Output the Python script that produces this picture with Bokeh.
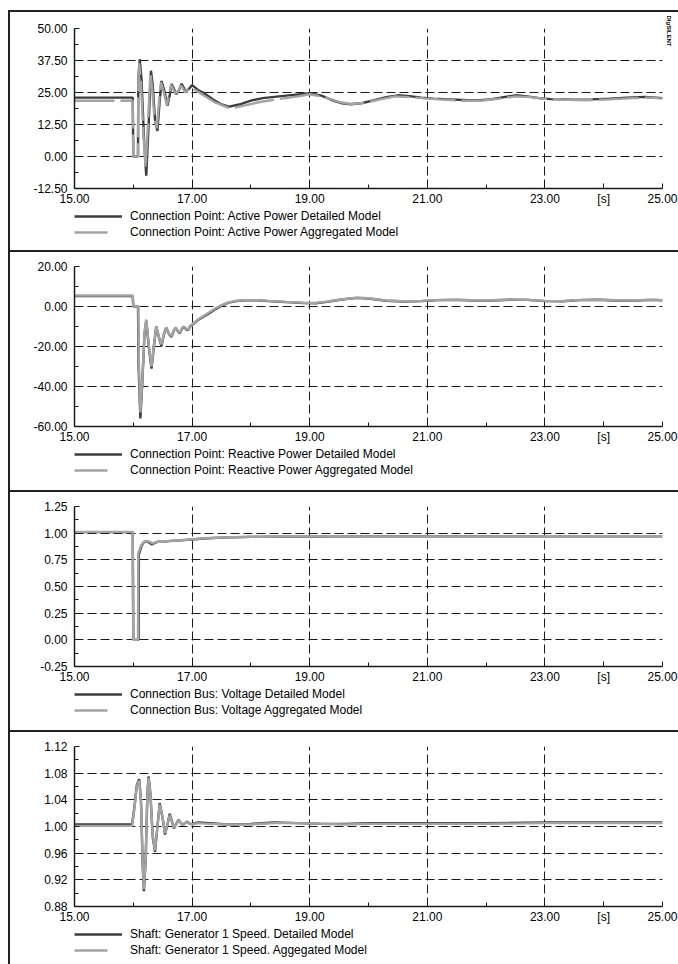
from bokeh.plotting import figure
from bokeh.models import (Range1d, FixedTicker, NumeralTickFormatter, Legend,
                          LegendItem, Spacer, Title)
from bokeh.layouts import column, row
from bokeh.embed import file_html
from bokeh.resources import INLINE

# ---------------- data ----------------
x_major = [15, 17, 19, 21, 23, 24, 25]
x_minor = [16, 18, 20, 22, 24]
x_grid = [17, 19, 21, 23, 25]
x_unit_tick = 24
x_unit_label = "[s]"

# Panel 1: active power
t_p_det = [15.0, 15.99, 16.0, 16.08, 16.085, 16.11, 16.14, 16.18, 16.22, 16.26, 16.30, 16.33, 16.37,
           16.41, 16.45, 16.48, 16.53, 16.58, 16.62, 16.65, 16.69, 16.73, 16.78, 16.82, 16.86, 16.89,
           16.95, 17.0, 17.1, 17.2, 17.35, 17.5, 17.63, 17.8, 18.0, 18.2, 18.4, 18.6, 18.8, 19.0, 19.2,
           19.4, 19.55, 19.7, 19.9, 20.1, 20.3, 20.5, 20.7, 20.9, 21.1, 21.4, 21.7, 21.9, 22.1, 22.3,
           22.5, 22.7, 22.9, 23.1, 23.3, 23.5, 23.8, 24.1, 24.4, 24.7, 25.0]
p_det = [23.0, 23.0, 0.0, 0.0, 30.0, 38.0, 30.0, 8.0, -7.5, 12.0, 33.5, 28.0, 14.0, 10.0, 22.0, 29.5,
         25.5, 19.8, 24.0, 28.3, 26.5, 24.3, 26.0, 28.4, 26.8, 25.2, 26.5, 27.9, 26.0, 24.8, 22.4, 20.3,
         19.5, 20.3, 21.8, 22.8, 23.3, 23.8, 24.2, 24.7, 23.8, 21.8, 20.8, 20.4, 20.9, 22.0, 23.2, 23.9,
         23.6, 23.0, 22.6, 22.3, 22.0, 22.0, 22.4, 23.2, 23.9, 23.5, 22.8, 22.4, 22.3, 22.2, 22.3, 22.6,
         23.0, 23.3, 22.8]
t_p_agg = [15.0, 15.99, 16.0, 16.08, 16.085, 16.10, 16.13, 16.17, 16.21, 16.25, 16.29, 16.32, 16.36,
           16.40, 16.44, 16.47, 16.52, 16.57, 16.61, 16.64, 16.68, 16.72, 16.77, 16.81, 16.85, 16.88,
           16.93, 16.98, 17.1, 17.2, 17.4, 17.6, 17.7, 17.9, 18.2, 18.5, 18.8, 19.0, 19.25, 19.5, 19.7,
           19.95, 20.2, 20.45, 20.7, 20.95, 21.2, 21.6, 21.9, 22.2, 22.5, 22.75, 23.0, 23.3, 23.7, 24.1,
           24.5, 24.8, 25.0]
p_agg = [21.8, 21.8, 0.0, 0.0, 28.0, 36.5, 29.0, 9.0, -4.5, 13.0, 32.5, 27.0, 15.0, 11.0, 22.0, 29.0,
         25.0, 20.0, 24.0, 28.0, 26.3, 24.5, 25.8, 27.8, 26.4, 25.0, 26.2, 27.0, 25.3, 23.8, 21.0, 19.2,
         19.0, 20.0, 21.5, 22.5, 23.5, 24.3, 23.2, 21.3, 20.5, 21.0, 22.3, 23.5, 23.2, 22.7, 22.3, 21.8,
         21.8, 22.5, 23.5, 23.2, 22.5, 22.2, 22.0, 22.3, 22.8, 23.0, 22.6]

# Panel 2: reactive power
t_q_det = [15.0, 15.99, 16.0, 16.08, 16.09, 16.12, 16.15, 16.19, 16.22, 16.27, 16.31, 16.35, 16.39,
           16.44, 16.48, 16.52, 16.56, 16.61, 16.65, 16.69, 16.72, 16.76, 16.79, 16.83, 16.86, 16.9,
           16.93, 16.97, 17.0, 17.1, 17.2, 17.3, 17.4, 17.5, 17.62, 17.75, 17.9, 18.1, 18.3, 18.6, 18.9,
           19.1, 19.3, 19.55, 19.8, 20.0, 20.3, 20.6, 20.9, 21.2, 21.5, 21.8, 22.1, 22.4, 22.7, 23.0,
           23.3, 23.6, 23.9, 24.2, 24.5, 24.8, 25.0]
q_det = [5.2, 5.2, 0.0, 0.0, -30.0, -56.0, -40.0, -14.0, -7.0, -22.0, -31.0, -20.0, -10.0, -16.0,
         -19.8, -14.0, -10.5, -14.0, -15.2, -12.0, -10.5, -12.5, -13.5, -11.0, -10.2, -11.5, -11.8,
         -9.8, -9.3, -6.8, -5.0, -3.2, -1.3, 0.4, 1.9, 2.7, 3.1, 3.1, 2.7, 2.2, 1.7, 1.6, 2.3, 3.5, 4.3,
         4.0, 2.9, 2.5, 2.7, 3.2, 3.3, 3.0, 3.0, 3.4, 3.3, 2.7, 2.6, 3.2, 3.4, 3.0, 2.9, 3.3, 3.1]
t_q_agg = [15.0, 15.99, 16.0, 16.085, 16.095, 16.12, 16.15, 16.19, 16.22, 16.27, 16.31, 16.35, 16.39,
           16.44, 16.48, 16.52, 16.56, 16.61, 16.65, 16.69, 16.72, 16.76, 16.79, 16.83, 16.86, 16.9,
           16.93, 16.97, 17.0, 17.1, 17.2, 17.3, 17.4, 17.5, 17.62, 17.75, 17.9, 18.1, 18.3, 18.6, 18.9,
           19.1, 19.3, 19.55, 19.8, 20.0, 20.3, 20.6, 20.9, 21.2, 21.5, 21.8, 22.1, 22.4, 22.7, 23.0,
           23.3, 23.6, 23.9, 24.2, 24.5, 24.8, 25.0]
q_agg = [5.5, 5.5, 0.0, 0.0, -28.0, -53.0, -39.0, -13.5, -6.5, -21.0, -30.0, -19.5, -9.8, -15.5,
         -19.0, -13.8, -10.5, -13.8, -14.8, -11.8, -10.4, -12.2, -13.2, -10.8, -10.0, -11.2, -11.5,
         -9.6, -9.0, -6.5, -4.6, -2.8, -0.9, 0.7, 2.1, 2.9, 3.2, 3.2, 2.8, 2.3, 1.9, 1.8, 2.5, 3.6, 4.4,
         4.1, 3.0, 2.6, 2.8, 3.3, 3.4, 3.1, 3.1, 3.5, 3.4, 2.8, 2.7, 3.3, 3.5, 3.1, 3.0, 3.4, 3.2]

# Panel 3: bus voltage
t_v_det = [15.0, 15.99, 16.0, 16.09, 16.095, 16.14, 16.18, 16.23, 16.28, 16.32, 16.37, 16.42, 16.5,
           16.6, 16.8, 17.0, 17.2, 17.5, 18.0, 18.5, 19.0, 19.5, 20.0, 21.0, 22.0, 23.0, 24.0, 25.0]
v_det = [1.01, 1.01, 0.0, 0.0, 0.80, 0.88, 0.915, 0.925, 0.908, 0.893, 0.91, 0.92, 0.918, 0.925,
         0.932, 0.94, 0.95, 0.958, 0.965, 0.968, 0.966, 0.968, 0.97, 0.97, 0.97, 0.97, 0.971, 0.971]
t_v_agg = [15.0, 15.99, 16.0, 16.08, 16.085, 16.13, 16.18, 16.23, 16.28, 16.33, 16.38, 16.43, 16.5,
           16.6, 16.8, 17.0, 17.2, 17.5, 18.0, 18.5, 19.0, 19.5, 20.0, 21.0, 22.0, 23.0, 24.0, 25.0]
v_agg = [1.012, 1.012, 0.0, 0.0, 0.81, 0.885, 0.92, 0.928, 0.918, 0.905, 0.915, 0.922, 0.92, 0.926,
         0.933, 0.942, 0.952, 0.96, 0.966, 0.969, 0.968, 0.969, 0.97, 0.97, 0.97, 0.971, 0.971, 0.971]

# Panel 4: generator speed
t_w = [15.0, 15.98, 16.02, 16.06, 16.10, 16.13, 16.16, 16.18, 16.21, 16.24, 16.26, 16.29, 16.33,
       16.37, 16.41, 16.45, 16.50, 16.54, 16.58, 16.62, 16.66, 16.69, 16.73, 16.77, 16.81, 16.84,
       16.88, 16.92, 16.96, 17.0, 17.1, 17.3, 17.6, 18.0, 18.4, 18.8, 19.2, 19.6, 20.0, 21.0, 22.0,
       23.0, 24.0, 25.0]
w_det = [1.003, 1.003, 1.03, 1.062, 1.071, 1.04, 0.94, 0.903, 0.95, 1.05, 1.075, 1.05, 0.985, 0.962,
         1.0, 1.035, 1.012, 0.988, 1.003, 1.019, 1.007, 0.997, 1.004, 1.010, 1.005, 1.002, 1.005,
         1.0075, 1.004, 1.004, 1.006, 1.005, 1.003, 1.004, 1.006, 1.005, 1.004, 1.004, 1.005, 1.005,
         1.005, 1.006, 1.006, 1.006]
w_agg = [1.001, 1.001, 1.028, 1.06, 1.069, 1.04, 0.945, 0.906, 0.95, 1.048, 1.073, 1.05, 0.987,
         0.964, 1.0, 1.033, 1.012, 0.99, 1.003, 1.017, 1.007, 0.998, 1.004, 1.009, 1.005, 1.002, 1.005,
         1.007, 1.004, 1.003, 1.005, 1.004, 1.003, 1.003, 1.005, 1.005, 1.004, 1.003, 1.004, 1.004,
         1.004, 1.005, 1.005, 1.005]

y1_major = [-12.5, 0.0, 12.5, 25.0, 37.5, 50.0]
y1_minor = [-6.25, 6.25, 18.75, 31.25, 43.75]
y2_major = [-60, -40, -20, 0, 20]
y2_minor = [-50, -30, -10, 10]
y3_major = [-0.25, 0.0, 0.25, 0.5, 0.75, 1.0, 1.25]
y3_minor = [-0.125, 0.125, 0.375, 0.625, 0.875, 1.125]
y4_major = [0.88, 0.92, 0.96, 1.00, 1.04, 1.08, 1.12]
y4_minor = [0.90, 0.94, 0.98, 1.02, 1.06, 1.10]

labels1 = ["Connection Point: Active Power Detailed Model",
           "Connection Point: Active Power Aggregated Model"]
labels2 = ["Connection Point: Reactive Power Detailed Model",
           "Connection Point: Reactive Power Aggregated Model"]
labels3 = ["Connection Bus: Voltage Detailed Model",
           "Connection Bus: Voltage Aggregated Model"]
labels4 = ["Shaft: Generator 1 Speed. Detailed Model",
           "Shaft: Generator 1 Speed. Aggegated Model"]
logo_text = "DIgSILENT"

# ---------------- style ----------------
FONT = "Liberation Sans"
INK = "#1a1a1a"
DARK = "#3d3d3d"
LIGHT = "#a3a3a3"
RULE = "#222222"
DET_STYLE = dict(line_color=DARK, line_width=2.4)
AGG_STYLE = dict(line_color=LIGHT, line_width=2.4)


def make_chart(top, yr, ymaj, ymin, t1, y1, t2, y2, agg_dash=None, logo=False):
    p = figure(width=668, height=top + 180, x_range=Range1d(15, 25), y_range=Range1d(*yr),
               output_backend="svg", toolbar_location=None,
               min_border_left=64, min_border_right=16, min_border_top=top,
               min_border_bottom=20)
    p.outline_line_color = None

    p.xaxis.ticker = FixedTicker(ticks=x_major, minor_ticks=x_minor)
    p.xaxis.major_label_overrides = {x_unit_tick: x_unit_label}
    p.xaxis.formatter = NumeralTickFormatter(format="0.00")
    p.yaxis.ticker = FixedTicker(ticks=ymaj, minor_ticks=ymin)
    p.yaxis.formatter = NumeralTickFormatter(format="0.00")
    p.xgrid.ticker = FixedTicker(ticks=x_grid)
    p.ygrid.ticker = FixedTicker(ticks=ymaj)

    for ax in (p.xaxis[0], p.yaxis[0]):
        ax.axis_line_color = INK
        ax.axis_line_width = 1.5
        ax.major_tick_in = 5
        ax.major_tick_out = 0
        ax.minor_tick_in = 4
        ax.minor_tick_out = 0
        ax.major_tick_line_color = INK
        ax.minor_tick_line_color = INK
        ax.major_label_text_font = FONT
        ax.major_label_text_font_size = "12px"
        ax.major_label_text_color = "#000000"
    p.xaxis.major_label_standoff = 3
    p.yaxis.major_label_standoff = 7

    p.grid.grid_line_color = INK
    p.grid.grid_line_dash = "9 4"
    p.grid.grid_line_width = 1

    p.line(t1, y1, **DET_STYLE)
    if agg_dash:
        p.line(t2, y2, line_dash=agg_dash, **AGG_STYLE)
    else:
        p.line(t2, y2, **AGG_STYLE)

    if logo:
        p.add_layout(Title(text=logo_text, align="left", text_font=FONT,
                           text_font_size="6px", text_font_style="bold",
                           text_color="#000000", standoff=7, offset=-13), "right")
    return p


def make_key(height, labels, t1, y1, t2, y2):
    # legend-only strip; its x range keeps the series themselves out of view
    k = figure(width=668, height=height, x_range=Range1d(0, 1), y_range=Range1d(0, 1),
               x_axis_type=None, y_axis_type=None, output_backend="svg",
               toolbar_location=None, min_border_left=64, min_border_right=0,
               min_border_top=0, min_border_bottom=0)
    k.outline_line_color = None
    k.grid.visible = False
    s1 = k.line(t1, y1, **DET_STYLE)
    s2 = k.line(t2, y2, line_dash="33 15", **AGG_STYLE)
    legend = Legend(items=[LegendItem(label=labels[0], renderers=[s1]),
                           LegendItem(label=labels[1], renderers=[s2])],
                    location="top_left", orientation="vertical",
                    border_line_color=None, background_fill_alpha=0,
                    label_text_font=FONT, label_text_font_size="12px",
                    label_text_color="#000000",
                    glyph_width=48, glyph_height=16, label_height=16,
                    label_standoff=8, spacing=0, padding=0, margin=0)
    k.add_layout(legend)
    return k


def rule(w, h):
    return Spacer(width=w, height=h, margin=0, styles={"background-color": RULE})


c1 = make_chart(16, (-12.5, 50), y1_major, y1_minor, t_p_det, p_det, t_p_agg, p_agg,
                agg_dash="40 6", logo=True)
k1 = make_key(42, labels1, t_p_det, p_det, t_p_agg, p_agg)
c2 = make_chart(14, (-60, 20), y2_major, y2_minor, t_q_det, q_det, t_q_agg, q_agg)
k2 = make_key(44, labels2, t_q_det, q_det, t_q_agg, q_agg)
c3 = make_chart(14, (-0.25, 1.25), y3_major, y3_minor, t_v_det, v_det, t_v_agg, v_agg)
k3 = make_key(44, labels3, t_v_det, v_det, t_v_agg, v_agg)
c4 = make_chart(14, (0.88, 1.12), y4_major, y4_minor, t_w, w_det, t_w, w_agg)
k4 = make_key(38, labels4, t_w, w_det, t_w, w_agg)

panels = column(rule(668, 2), c1, k1, rule(668, 2), c2, k2, rule(668, 2), c3, k3,
                rule(668, 2), c4, k4, spacing=0)
body = row(rule(2, 954), panels, spacing=0)
layout = row(Spacer(width=8, height=10, margin=0),
             column(Spacer(width=10, height=10, margin=0), body, spacing=0),
             spacing=0)

open("out.html", "w").write(file_html(layout, INLINE))
